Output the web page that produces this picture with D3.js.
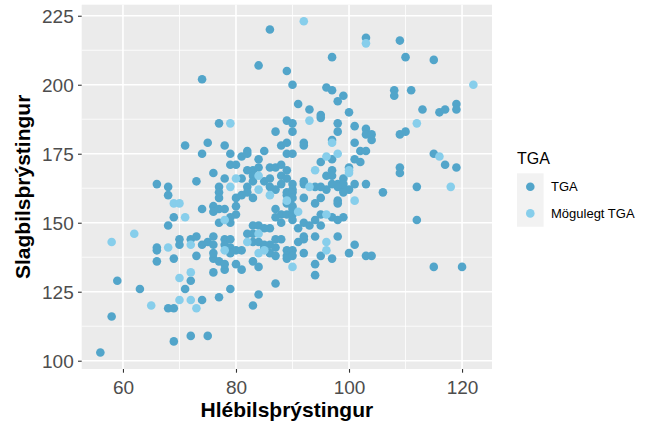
<!DOCTYPE html>
<html><head><meta charset="utf-8">
<script src="https://cdn.jsdelivr.net/npm/d3@7"></script>
<style>body{margin:0;background:#fff}svg text{font-family:"Liberation Sans",Arial,Helvetica,sans-serif}</style>
</head><body>
<svg id="c" width="649" height="423"></svg>
<script>
const groups = ["TGA", "Mögulegt TGA"];
const groupColors = ["#52A5CA", "#87CEEB"];
const xTicks = [60, 80, 100, 120];
const yTicks = [100, 125, 150, 175, 200, 225];
const xTitle = "Hlébilsþrýstingur";
const yTitle = "Slagbilsþrýstingur";
const legendTitle = "TGA";

// [Hlébilsþrýstingur, Slagbilsþrýstingur]
const tga = [
[86,220],[84,207],[89,205],[90,200],[74,202],[103,217],[109,216],[97,210],[110,210],[115,209],
[96,199],[97,198],[99,196],[98,194],[108,198],[108,196],[111,198],
[91,193],[93,191],[95,189],[95,188],[100,190],[113,191],[116,190],[117,191],[119,193],[119,191],
[77,186],[89,187],[87,183],[90,186],[90,183],[98,186],[98,183],[101,185],[103,184],[103,182],[104,182],[104,180],[109,182],[110,183],
[71,178],[75,179],[78,178],[74,175],[79,175],[82,176],[81,174],[82,175],[85,176],[84,173],[88,178],[89,179],[89,175],[90,175],[92,179],[92,178],[97,180],[101,179],[95,172],[97,173],[101,173],[102,176],[103,176],[102,172],[100,170],[97,169],[96,167],[97,167],[99,166],[115,175],[117,171],[119,170],[109,170],[109,168],
[79,171],[80,171],[86,170],[87,170],[88,171],[89,169],[88,167],[89,166],[82,169],[83,169],[84,170],[83,167],
[76,168],[78,166],[81,166],[85,165],[86,166],[83,165],[88,164],[66,164],[68,163],[73,165],[77,163],[82,163],
[90,164],[92,164],[94,163],[96,162],[97,164],[98,164],[99,164],[99,162],[100,162],[101,164],[103,164],[106,161],[112,163],[95,163],[98,163],[99,161],[92,165],[86,163],[87,162],[89,161],[90,162],
[68,160],[77,161],[77,159],[80,159],[82,161],[83,159],[81,160],
[89,160],[90,161],[94,157],[95,159],[98,158],[92,159],[90,159],[89,157],[90,156],[98,157],
[69,152],[74,155],[76,156],[76,154],[77,155],[78,155],[80,156],[80,153],[77,150],[79,150],[79,152],[68,149],
[87,155],[88,153],[89,153],[90,153],[87,152],[90,151],[86,148],[88,150],[91,148],[92,150],[93,149],[94,151],[95,153],[95,149],[97,152],[98,151],[99,152],[112,151],[90,155],
[83,149],[84,149],[85,148],[83,146],[82,146],
[66,141],[66,140],[66,136],[69,137],[70,144],[70,142],[72,144],[73,145],[73,138],[74,142],[75,143],[76,142],[76,145],[76,137],[76,139],[77,136],[78,133],[76,132],[78,144],[79,144],[78,142],[79,141],[80,140],[81,140],[79,139],[80,135],[81,133],[78,135],
[83,143],[84,143],[85,142],[85,141],[86,142],[86,139],[83,136],[84,134],
[87,144],[88,144],[87,141],[89,140],[87,138],[89,138],[89,137],[91,143],[92,145],[92,144],[94,145],[98,145],[90,140],[90,138],[92,139],[94,135],[95,138],[97,137],[100,139],[101,142],[103,138],[104,138],[94,131],[115,134],[120,134],[87,128],
[59,129],[63,126],[71,126],[72,129],[79,126],[77,123],[74,122],[84,124],[83,120],[68,119],[69,119],[58,116],[69,107],[72,109],[75,109],[56,103]
];
const mogulegt = [
[92,223],[103,215],[122,200],[79,186],[93,187],[112,186],[97,179],[96,174],[98,175],[116,174],[100,169],[100,168],[94,169],[80,166],[84,167],[79,163],[84,162],[86,160],[93,163],[118,163],[89,158],[101,158],[91,154],[96,153],[84,146],[82,143],[78,140],[85,140],[84,139],[96,143],[96,140],[90,134],[78,151],[71,152],[69,157],[70,157],[58,143],[62,146],[68,141],[72,142],[70,130],[72,132],[70,122],[72,122],[73,119],[65,120]
];

const svg = d3.select("#c");
const P = {l: 81.7, r: 492, t: 4.7, b: 369};
const all = tga.concat(mogulegt);
const xe = d3.extent(all, d => d[0]), ye = d3.extent(all, d => d[1]);
const xp = (xe[1]-xe[0])*0.05, yp = (ye[1]-ye[0])*0.05;
const x = d3.scaleLinear().domain([xe[0]-xp, xe[1]+xp]).range([P.l, P.r]);
const y = d3.scaleLinear().domain([ye[0]-yp, ye[1]+yp]).range([P.b, P.t]);

svg.append("rect").attr("x", P.l).attr("y", P.t).attr("width", P.r-P.l).attr("height", P.b-P.t).attr("fill", "#ebebeb");

function minors(ticks, dom) {
  const step = ticks[1]-ticks[0];
  const out = [];
  for (let v = ticks[0]-step/2; v <= dom[1]; v += step) if (v >= dom[0]) out.push(v);
  return out;
}
const g = svg.append("g");
minors(xTicks, x.domain()).forEach(v => g.append("line").attr("x1", x(v)).attr("x2", x(v)).attr("y1", P.t).attr("y2", P.b).attr("stroke", "#fff").attr("stroke-width", 0.8));
minors(yTicks, y.domain()).forEach(v => g.append("line").attr("y1", y(v)).attr("y2", y(v)).attr("x1", P.l).attr("x2", P.r).attr("stroke", "#fff").attr("stroke-width", 0.8));
xTicks.forEach(v => g.append("line").attr("x1", x(v)).attr("x2", x(v)).attr("y1", P.t).attr("y2", P.b).attr("stroke", "#fff").attr("stroke-width", 1.6));
yTicks.forEach(v => g.append("line").attr("y1", y(v)).attr("y2", y(v)).attr("x1", P.l).attr("x2", P.r).attr("stroke", "#fff").attr("stroke-width", 1.6));

const pts = svg.append("g");
[tga, mogulegt].forEach((arr, i) => {
  pts.selectAll(null).data(arr).enter().append("circle")
    .attr("cx", d => x(d[0])).attr("cy", d => y(d[1])).attr("r", 4.3)
    .attr("fill", groupColors[i]);
});

// axes
const xAxis = d3.axisBottom(x).tickValues(xTicks).tickSize(3.7).tickPadding(2);
const xa = svg.append("g").attr("transform", `translate(0,${P.b})`).call(xAxis);
const yAxis = d3.axisLeft(y).tickValues(yTicks).tickSize(3.7).tickPadding(2);
const ya = svg.append("g").attr("transform", `translate(${P.l},0)`).call(yAxis);
[xa, ya].forEach(a => {
  a.select(".domain").remove();
  a.selectAll(".tick line").attr("stroke", "#333").attr("stroke-width", 1.1);
  a.selectAll(".tick text").attr("fill", "#4d4d4d").style("font-size", "19px");
});
xa.selectAll(".tick text").attr("dy", null).attr("y", 25);
ya.selectAll(".tick text").attr("dy", "0.36em").attr("x", -8);

svg.append("text").attr("x", (P.l+P.r)/2).attr("y", 416.5).attr("text-anchor", "middle")
  .style("font-size", "21px").style("font-weight", "bold").attr("fill", "#000").text(xTitle);
svg.append("text").attr("transform", `translate(30,${(P.t+P.b)/2}) rotate(-90)`).attr("text-anchor", "middle")
  .style("font-size", "21px").style("font-weight", "bold").attr("fill", "#000").text(yTitle);

// legend
const L = svg.append("g");
L.append("text").attr("x", 517).attr("y", 164).style("font-size", "16px").attr("fill", "#000").text(legendTitle);
groups.forEach((name, i) => {
  const cy = 186.7 + i*26.7;
  L.append("rect").attr("x", 517).attr("y", cy-13.35).attr("width", 26.6).attr("height", 26.7).attr("fill", "#f2f2f2");
  L.append("circle").attr("cx", 530.3).attr("cy", cy).attr("r", 4.3).attr("fill", groupColors[i]);
  L.append("text").attr("x", 551).attr("y", cy+4.7).style("font-size", "13px").attr("fill", "#000").text(name);
});
</script>
</body></html>
